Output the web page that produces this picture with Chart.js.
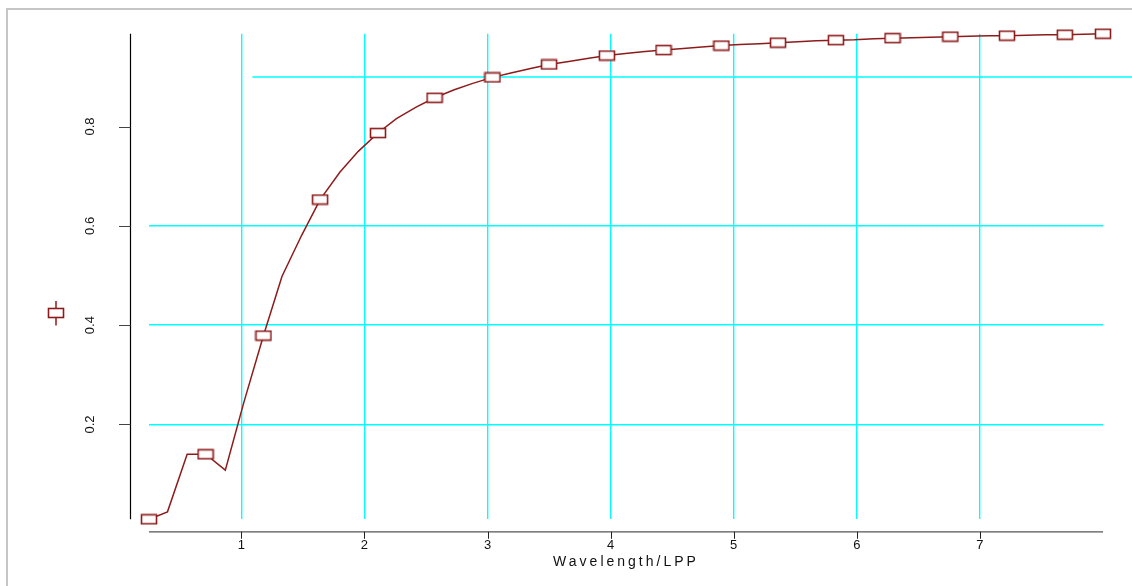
<!DOCTYPE html>
<html>
<head>
<meta charset="utf-8">
<script src="https://cdn.jsdelivr.net/npm/chart.js@4.4.1/dist/chart.umd.min.js"></script>
<style>
  html, body { margin: 0; padding: 0; background: #fff; }
  #wrap { position: relative; width: 1132px; height: 586px; overflow: hidden; }
  #frame { position: absolute; left: 6px; top: 8px; right: -4px; bottom: -4px;
           border-left: 2px solid #c6c6c6; border-top: 2px solid #c6c6c6; }
  #curve { position: absolute; left: 0; top: 0; }
</style>
</head>
<body>
<div id="wrap">
  <div id="frame"></div>
  <canvas id="curve" width="1132" height="586"></canvas>
</div>
<script>
// values
const wavelength = [0.25, 0.40, 0.56, 0.71, 0.87, 1.02, 1.18, 1.33, 1.49, 1.64,
                    1.80, 1.95, 2.11, 2.26, 2.42, 2.57, 2.73, 2.88, 3.04, 3.19,
                    3.35, 3.50, 3.66, 3.81, 3.97, 4.12, 4.28, 4.43, 4.59, 4.74,
                    4.90, 5.05, 5.21, 5.36, 5.52, 5.67, 5.83, 5.98, 6.14, 6.29,
                    6.45, 6.60, 6.76, 6.91, 7.07, 7.22, 7.38, 7.53, 7.69, 7.84, 8.00];
const response = [0.009, 0.024, 0.140, 0.140, 0.108, 0.244, 0.379, 0.498, 0.581, 0.653,
                  0.708, 0.750, 0.787, 0.816, 0.839, 0.858, 0.874, 0.887, 0.899, 0.908,
                  0.917, 0.925, 0.931, 0.937, 0.943, 0.947, 0.951, 0.954, 0.957, 0.960,
                  0.963, 0.965, 0.967, 0.969, 0.971, 0.973, 0.974, 0.975, 0.977, 0.978,
                  0.979, 0.980, 0.981, 0.982, 0.983, 0.983, 0.984, 0.985, 0.985, 0.986, 0.987];
const xTicks = [1, 2, 3, 4, 5, 6, 7];
const yTicks = [0.2, 0.4, 0.6, 0.8];
const yGrid = [0.2, 0.4, 0.6];
const refLevel = 0.9;    // extra horizontal line
const refFrom = 1.09;    // it starts here (x units)
const xTitle = "Wavelength/LPP";

const RED = '#8e1b1b';
const CYAN = '#00ffff';

// open rectangle marker
const marker = document.createElement('canvas');
marker.width = 18; marker.height = 12;
(function () {
  const m = marker.getContext('2d');
  m.fillStyle = '#fff';
  m.fillRect(1.5, 1.5, 15, 9);
  m.strokeStyle = RED;
  m.lineWidth = 1.6;
  m.strokeRect(1.5, 1.5, 15, 9);
})();

const last = wavelength.length - 1;

const axesPlugin = {
  id: 'axes',
  beforeDatasetsDraw(chart) {
    const { ctx, scales: { x, y } } = chart;
    ctx.save();
    ctx.strokeStyle = CYAN;
    ctx.lineWidth = 1.4;
    const py = Math.round(y.getPixelForValue(refLevel));
    ctx.beginPath();
    ctx.moveTo(x.getPixelForValue(refFrom), py);
    ctx.lineTo(chart.width, py);
    ctx.stroke();
    ctx.restore();
  },
  afterDraw(chart) {
    const { ctx, chartArea, scales: { x, y } } = chart;
    ctx.save();
    // y axis, set off to the left of the plot
    const ax = chartArea.left - 18.5;
    ctx.strokeStyle = '#000';
    ctx.lineWidth = 1.2;
    ctx.beginPath();
    ctx.moveTo(ax, y.getPixelForValue(y.max));
    ctx.lineTo(ax, y.getPixelForValue(y.min));
    ctx.stroke();
    ctx.strokeStyle = '#444';
    ctx.lineWidth = 1;
    ctx.beginPath();
    yTicks.forEach(v => {
      const p = Math.round(y.getPixelForValue(v)) + 0.5;
      ctx.moveTo(ax - 11.5, p);
      ctx.lineTo(ax, p);
    });
    ctx.stroke();
    // x axis, set off below the plot
    const ay = chartArea.bottom + 12.5;
    ctx.strokeStyle = '#555';
    ctx.lineWidth = 1.3;
    ctx.beginPath();
    ctx.moveTo(x.getPixelForValue(x.min), ay);
    ctx.lineTo(x.getPixelForValue(x.max), ay);
    ctx.stroke();
    ctx.strokeStyle = '#222';
    ctx.lineWidth = 1;
    ctx.beginPath();
    xTicks.forEach(v => {
      const p = Math.round(x.getPixelForValue(v)) + 0.5;
      ctx.moveTo(p, ay);
      ctx.lineTo(p, ay + 7);
    });
    ctx.stroke();
    // axis title
    ctx.fillStyle = '#111';
    ctx.font = '14px "Liberation Sans", Arial, sans-serif';
    ctx.letterSpacing = '3px';
    ctx.textAlign = 'center';
    ctx.textBaseline = 'middle';
    ctx.fillText(xTitle, (chartArea.left + chartArea.right) / 2, chartArea.bottom + 43);
    ctx.letterSpacing = '0px';
    // legend symbol in the y title place
    ctx.strokeStyle = RED;
    ctx.lineWidth = 1.5;
    ctx.beginPath();
    ctx.moveTo(56, 301);
    ctx.lineTo(56, 325.5);
    ctx.stroke();
    ctx.drawImage(marker, 56 - marker.width / 2, 313 - marker.height / 2);
    ctx.restore();
  }
};

new Chart(document.getElementById('curve'), {
  type: 'line',
  data: {
    datasets: [{
      data: wavelength.map((w, i) => ({ x: w, y: response[i] })),
      borderColor: RED,
      borderWidth: 1.5,
      tension: 0,
      fill: false,
      clip: false,
      pointStyle: marker,
      pointRadius: c => (c.dataIndex % 3 === 0 || c.dataIndex === last) ? 6 : 0,
      pointHoverRadius: 0
    }]
  },
  options: {
    responsive: false,
    animation: false,
    events: [],
    layout: { padding: { top: 33.7, right: 29, left: 0, bottom: 0 } },
    plugins: { legend: { display: false }, tooltip: { enabled: false } },
    scales: {
      x: {
        type: 'linear',
        min: wavelength[0],
        max: wavelength[last],
        afterFit: s => { s.height = 66.7; s.paddingLeft = 0; s.paddingRight = 0; },
        afterBuildTicks: s => { s.ticks = xTicks.map(v => ({ value: v })); },
        grid: { color: CYAN, lineWidth: 1.4, drawTicks: false },
        border: { display: false },
        ticks: {
          color: '#111', padding: 18, minRotation: 0, maxRotation: 0,
          font: { family: '"Liberation Sans", Arial, sans-serif', size: 13 },
          callback: v => String(v)
        }
      },
      y: {
        type: 'linear',
        min: Math.min(...response),
        max: Math.max(...response),
        afterFit: s => { s.width = 149; s.paddingTop = 0; s.paddingBottom = 0; },
        afterBuildTicks: s => { s.ticks = yTicks.map(v => ({ value: v })); },
        grid: {
          color: c => (c.tick && yGrid.includes(c.tick.value)) ? CYAN : 'rgba(0,0,0,0)',
          lineWidth: 1.4, drawTicks: false
        },
        border: { display: false },
        ticks: {
          color: '#111', padding: 50, minRotation: 90, maxRotation: 90, crossAlign: 'center',
          font: { family: '"Liberation Sans", Arial, sans-serif', size: 13 },
          callback: v => v.toFixed(1)
        }
      }
    }
  },
  plugins: [axesPlugin]
});
</script>
</body>
</html>
